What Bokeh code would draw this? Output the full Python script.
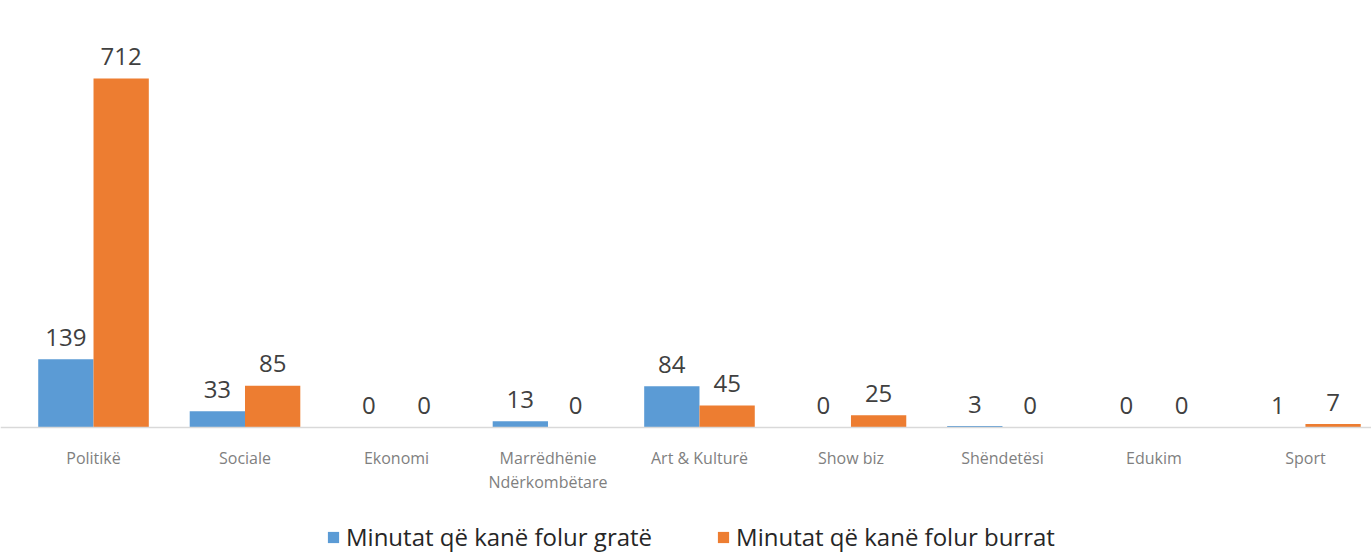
from bokeh.plotting import figure
from bokeh.models import ColumnDataSource, Range1d, Legend, LegendItem, Span
from bokeh.transform import dodge
from bokeh.core.properties import value
from bokeh.embed import file_html
from bokeh.resources import INLINE

categories = ["Politikë", "Sociale", "Ekonomi", "Marrëdhënie\nNdërkombëtare",
              "Art & Kulturë", "Show biz", "Shëndetësi", "Edukim", "Sport"]
women = [139, 33, 0, 13, 84, 0, 3, 0, 1]
men = [712, 85, 0, 0, 45, 25, 0, 0, 7]
series_names = ["Minutat që kanë folur gratë", "Minutat që kanë folur burrat"]

BLUE = "#5B9BD5"
ORANGE = "#ED7D31"

idx = list(range(len(categories)))
src = ColumnDataSource(dict(
    x=idx, cat=categories, zero=[0] * len(idx), women=women, men=men,
    wl=[str(v) for v in women], ml=[str(v) for v in men],
))

p = figure(width=1371, height=554, output_backend="svg", toolbar_location=None,
           x_range=Range1d(-0.614, 8.436), y_range=Range1d(-259, 871),
           min_border_left=0, min_border_right=0, min_border_top=0,
           min_border_bottom=0)
p.outline_line_color = None
p.background_fill_color = "white"
p.border_fill_color = "white"
p.grid.visible = False
p.xaxis.visible = False
p.yaxis.visible = False

p.add_layout(Span(location=0, dimension="width", line_color="#D9D9D9", line_width=1.5))

bw = 0.365
r1 = p.vbar(x=dodge("x", -bw / 2, range=p.x_range), top="women", width=bw,
            source=src, fill_color=BLUE, line_color=None)
r2 = p.vbar(x=dodge("x", bw / 2, range=p.x_range), top="men", width=bw,
            source=src, fill_color=ORANGE, line_color=None)

p.text(x=dodge("x", -bw / 2, range=p.x_range), y="women", text="wl", source=src,
       text_align="center", text_baseline="alphabetic", y_offset=-22,
       text_font=value("Open Sans"), text_font_size="24px", text_color="#404040")
p.text(x=dodge("x", bw / 2, range=p.x_range), y="men", text="ml", source=src,
       text_align="center", text_baseline="alphabetic", y_offset=-22,
       text_font=value("Open Sans"), text_font_size="24px", text_color="#404040")

# category labels below the baseline
p.text(x="x", y="zero", text="cat", source=src, text_align="center",
       text_baseline="top", y_offset=19, text_line_height=1.1,
       text_font=value("Open Sans"), text_font_size="16px", text_color="#7F7F7F")

legend = Legend(items=[LegendItem(label=series_names[0], renderers=[r1]),
                       LegendItem(label=series_names[1], renderers=[r2])],
                orientation="horizontal", location=(326, 1),
                label_text_font="Open Sans", label_text_font_size="24px",
                label_text_color="#262626", glyph_width=14, glyph_height=14,
                spacing=64, label_standoff=6, border_line_color=None,
                background_fill_alpha=0, margin=0, padding=2)
p.add_layout(legend, "center")

open("out.html", "w").write(file_html(p, INLINE))
